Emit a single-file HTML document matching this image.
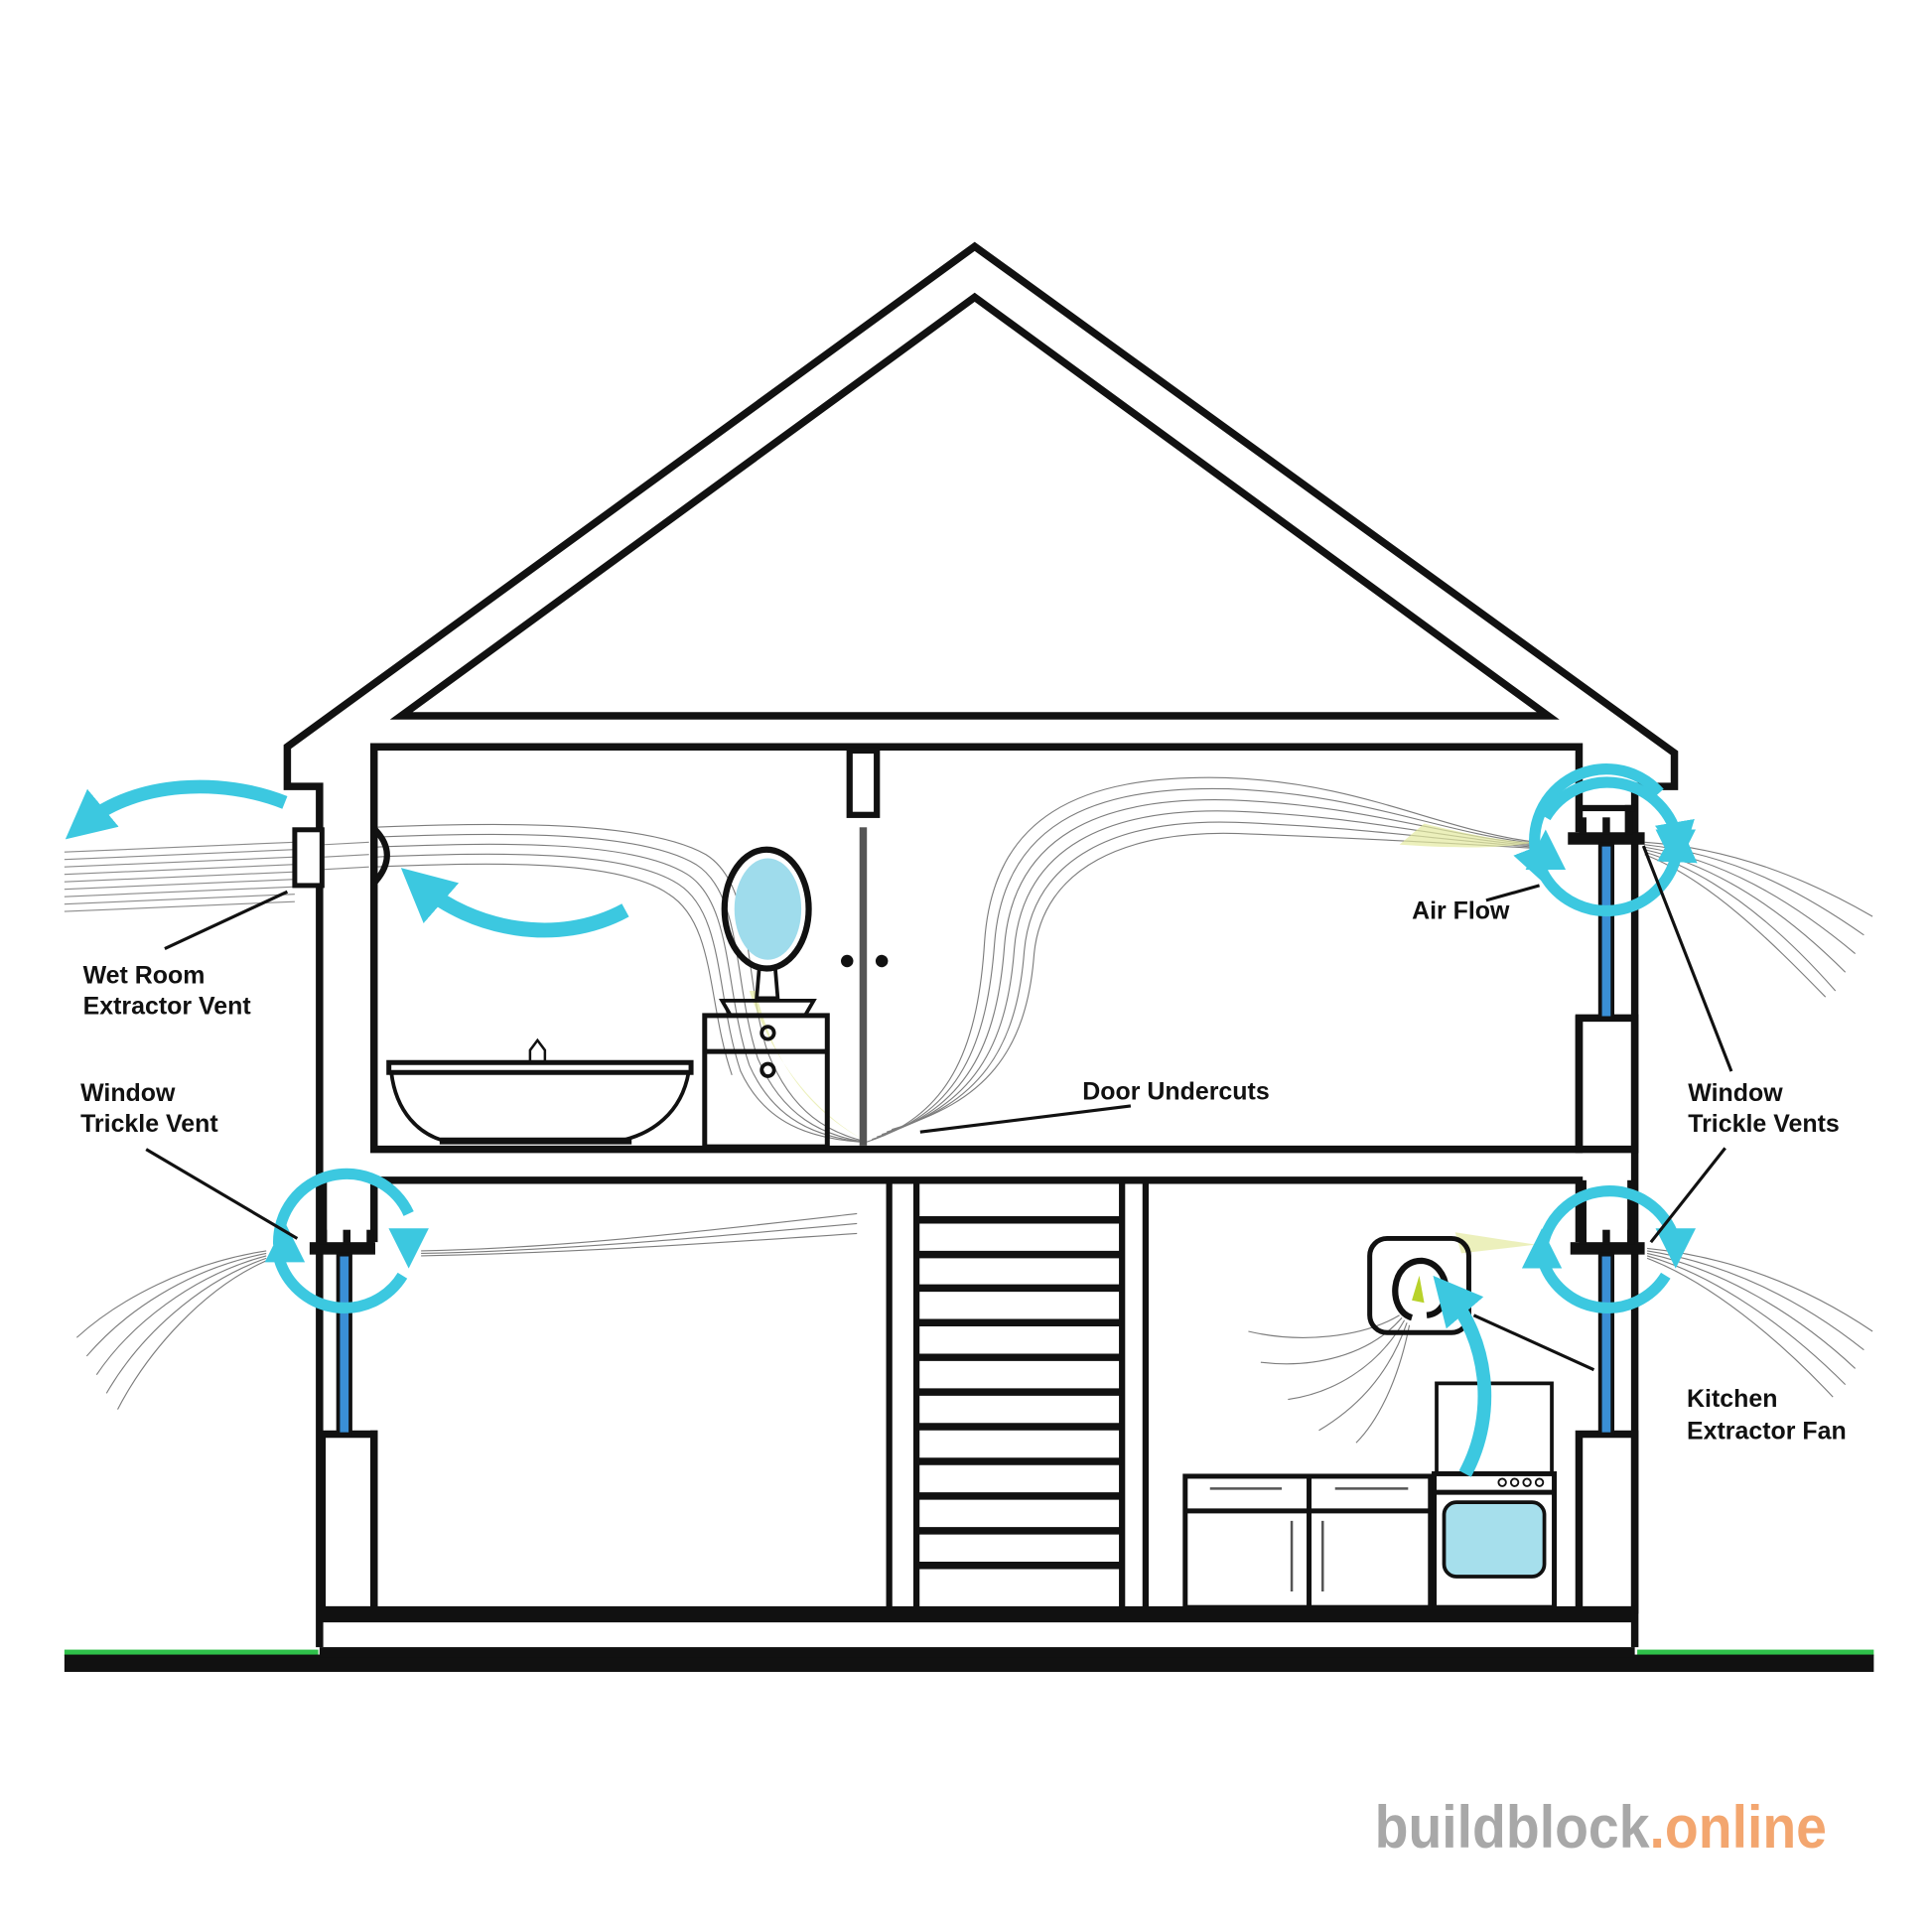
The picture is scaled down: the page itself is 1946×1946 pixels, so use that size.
<!DOCTYPE html>
<html><head><meta charset="utf-8"><style>
html,body{margin:0;padding:0;background:#fff;}
svg{display:block;}
text{font-family:"Liberation Sans",sans-serif;font-weight:bold;fill:#111;}
</style></head><body>
<svg width="1946" height="1946" viewBox="0 0 1560 1560" xmlns="http://www.w3.org/2000/svg">
<defs>
<marker id="ah" viewBox="0 0 10 10" refX="5" refY="5" markerWidth="3.6" markerHeight="3.6" orient="auto-start-reverse"><path d="M0,0 L10,5 L0,10 z" fill="#3cc8e0"/></marker>
</defs>
<rect width="1560" height="1560" fill="#fff"/>

<!-- airflow streaks -->
<g fill="none" stroke="#666" stroke-width="0.9" opacity="0.85">
 <g>
  <path d="M700,922 C770,900 790,840 795,760 C802,660 870,625 990,628 C1100,632 1160,670 1240,680"/>
  <path d="M704,920 C775,898 797,842 803,762 C810,668 878,634 992,637 C1100,641 1160,672 1240,681"/>
  <path d="M708,918 C780,896 805,844 811,764 C818,676 886,643 994,646 C1100,650 1160,674 1240,682"/>
  <path d="M712,916 C785,894 813,846 819,766 C826,684 894,652 996,655 C1100,659 1160,676 1240,683"/>
  <path d="M716,914 C790,892 821,848 827,768 C834,692 902,661 998,664 C1100,668 1160,678 1240,684"/>
  <path d="M720,912 C795,890 829,850 835,770 C842,700 910,670 1000,673 C1100,677 1160,680 1240,685"/>
 </g>
 <g>
  <path d="M302,668 C400,664 520,662 570,690 C610,715 600,790 620,850 C640,900 670,915 700,922"/>
  <path d="M302,676 C400,672 515,670 562,698 C600,722 592,795 612,855 C632,902 665,917 698,922"/>
  <path d="M302,684 C400,680 510,678 555,706 C592,730 585,800 605,860 C625,905 660,918 696,922"/>
  <path d="M302,692 C400,688 505,686 548,714 C585,738 578,805 598,865 C618,908 655,919 694,922"/>
  <path d="M302,700 C400,696 500,694 540,722 C578,746 571,810 591,868"/>
 </g>
 <g stroke="#777">
  <path d="M52,688 L238,680"/><path d="M52,694 L238,686"/><path d="M52,700 L238,692"/><path d="M52,706 L238,698"/><path d="M52,712 L238,704"/><path d="M52,718 L238,710"/><path d="M52,724 L238,716"/><path d="M52,730 L238,722"/><path d="M52,736 L238,728"/>
  <path d="M262,682 L298,680"/><path d="M262,692 L298,690"/><path d="M262,702 L298,700"/>
 </g>
 <g>
  <path d="M1328,680 C1400,685 1460,710 1512,740"/>
  <path d="M1328,682 C1400,690 1455,720 1505,755"/>
  <path d="M1328,684 C1395,695 1450,730 1498,770"/>
  <path d="M1328,686 C1390,700 1445,740 1490,785"/>
  <path d="M1328,688 C1385,705 1438,750 1482,800"/>
  <path d="M1328,690 C1380,710 1430,760 1474,805"/>
 </g>
 <g>
  <path d="M1330,1008 C1400,1015 1460,1040 1512,1075"/>
  <path d="M1330,1010 C1395,1020 1455,1050 1505,1090"/>
  <path d="M1330,1012 C1390,1025 1450,1060 1498,1105"/>
  <path d="M1330,1014 C1385,1030 1442,1070 1490,1118"/>
  <path d="M1330,1016 C1380,1035 1435,1080 1480,1128"/>
 </g>
 <g>
  <path d="M215,1010 C150,1020 95,1050 62,1080"/>
  <path d="M215,1012 C150,1025 100,1060 70,1095"/>
  <path d="M215,1014 C155,1030 105,1070 78,1110"/>
  <path d="M215,1016 C160,1035 112,1080 86,1125"/>
  <path d="M215,1018 C165,1040 120,1090 95,1138"/>
 </g>
 <g>
  <path d="M340,1010 C450,1008 560,995 692,980"/>
  <path d="M340,1012 C450,1010 560,1000 692,988"/>
  <path d="M340,1014 C450,1012 560,1005 692,996"/>
 </g>
 <g>
  <path d="M1130,1062 C1100,1080 1050,1085 1008,1075"/>
  <path d="M1132,1064 C1105,1095 1060,1105 1018,1100"/>
  <path d="M1134,1066 C1112,1105 1075,1125 1040,1130"/>
  <path d="M1136,1068 C1120,1115 1090,1140 1065,1155"/>
  <path d="M1138,1070 C1128,1120 1110,1150 1095,1165"/>
 </g>
</g>
<g fill="#e4eaa0" opacity="0.7">
 <path d="M1150,665 C1190,675 1220,680 1240,680 C1220,684 1190,686 1130,682 z"/>
 <path d="M1175,995 L1240,1005 L1180,1012 z"/>
 <path d="M610,800 C620,840 640,890 700,922 C660,900 625,860 605,800 z"/>
</g>

<g fill="none" stroke="#111" stroke-width="6" stroke-linejoin="miter">
 <path d="M258,1330 L258,635 L232,635 L232,603 L787,199 L1352,608 L1352,635 L1320,635 L1320,1330"/>
 <path d="M324,578 L787,240 L1250,578 z"/>
 <path d="M1275,672 L1275,603 L302,603 L302,928 L1275,928 L1275,820"/>
 <path d="M302,1003 L302,953 L1275,953 L1275,1003"/>
 <path d="M302,1155 L302,1300"/>
 <rect x="260" y="1158" width="42" height="142"/>
 <rect x="1275" y="822" width="45" height="106"/>
 <rect x="1275" y="1158" width="45" height="142"/>
 <rect x="686" y="606" width="22" height="52" stroke-width="5"/>
 <path d="M718,953 L718,1300 M740,953 L740,1300 M906,953 L906,1300 M925,953 L925,1300" stroke-width="5"/>
</g>
<g stroke="#111" stroke-width="6">
 <path d="M740,985 H906 M740,1013 H906 M740,1040 H906 M740,1068 H906 M740,1096 H906 M740,1124 H906 M740,1152 H906 M740,1180 H906 M740,1208 H906 M740,1236 H906 M740,1264 H906"/>
</g>
<rect x="258" y="1297" width="1062" height="13" fill="#111"/>
<rect x="52" y="1332" width="205" height="5" fill="#2fc04a"/>
<rect x="1322" y="1332" width="191" height="5" fill="#2fc04a"/>
<rect x="52" y="1336" width="1461" height="14" fill="#111"/>
<rect x="258" y="1330" width="1062" height="8" fill="#111"/>

<g fill="#111">
 <rect x="250" y="1003" width="53" height="10"/>
 <rect x="258" y="993" width="6" height="12"/><rect x="277" y="993" width="6" height="12"/><rect x="296" y="993" width="6" height="12"/>
 <rect x="1266" y="672" width="62" height="10"/>
 <rect x="1275" y="660" width="6" height="14"/><rect x="1294" y="660" width="6" height="14"/><rect x="1312" y="650" width="6" height="24"/>
 <rect x="1275" y="650" width="45" height="5"/>
 <rect x="1268" y="1003" width="60" height="10"/>
 <rect x="1275" y="993" width="6" height="12"/><rect x="1294" y="993" width="6" height="12"/><rect x="1314" y="993" width="6" height="12"/>
 <rect x="1275" y="953" width="6" height="52"/><rect x="1314" y="953" width="6" height="52"/>
 <rect x="258" y="953" width="6" height="52"/>
</g>
<g stroke="#111" stroke-width="3" fill="#3a8fd6">
 <rect x="273" y="1013" width="10" height="145"/>
 <rect x="1292" y="682" width="10" height="140"/>
 <rect x="1292" y="1013" width="10" height="145"/>
</g>

<rect x="238" y="670" width="22" height="45" fill="#fff" stroke="#111" stroke-width="4"/>
<path d="M303,670 Q322,690 303,712" fill="none" stroke="#111" stroke-width="5"/>

<g fill="none" stroke="#111">
 <path d="M314,858 L558,858 L558,866 L314,866 z" stroke-width="4"/>
 <path d="M316,866 C320,900 340,915 355,920 L505,920 C525,915 550,900 556,866" stroke-width="3"/>
 <path d="M355,922 H510" stroke-width="4"/>
 <path d="M428,857 L428,848 L434,840 L440,848 L440,857" stroke-width="2"/>
 <rect x="569" y="820" width="99" height="106" stroke-width="4"/>
 <path d="M569,849 H668" stroke-width="4"/>
 <path d="M583,808 L657,808 L650,820 L590,820 z" stroke-width="3"/>
 <circle cx="620" cy="834" r="5" stroke-width="3"/>
 <circle cx="620" cy="864" r="5" stroke-width="3"/>
 <path d="M613,782 L626,782 L628,806 L611,806 z" stroke-width="3"/>
 <ellipse cx="619" cy="734" rx="34" ry="48" stroke-width="5"/>
</g>
<ellipse cx="620" cy="734" rx="27" ry="41" fill="#9fdcec"/>
<rect x="694" y="668" width="6" height="257" fill="#555"/>
<circle cx="684" cy="776" r="5" fill="#111"/><circle cx="712" cy="776" r="5" fill="#111"/>

<g fill="none" stroke="#111" stroke-width="4">
 <rect x="957" y="1192" width="198" height="106"/>
 <path d="M957,1220 H1155 M1057,1192 V1298"/>
 <rect x="1160" y="1117" width="93" height="73" stroke-width="3"/>
 <rect x="1158" y="1190" width="97" height="108"/>
 <path d="M1158,1205 H1255"/>
 <rect x="1106" y="1000" width="80" height="76" rx="14"/>
 <path d="M1152,1062 C1175,1060 1172,1020 1148,1018 C1122,1018 1120,1058 1140,1064" stroke-width="5"/>
</g>
<g stroke="#555" stroke-width="2">
 <path d="M977,1202 H1035 M1078,1202 H1137 M1043,1228 V1285 M1068,1228 V1285"/>
</g>
<g fill="none" stroke="#111" stroke-width="1.5"><circle cx="1213" cy="1197" r="3"/><circle cx="1223" cy="1197" r="3"/><circle cx="1233" cy="1197" r="3"/><circle cx="1243" cy="1197" r="3"/></g>
<rect x="1166" y="1213" width="81" height="60" rx="10" fill="#a6dfec" stroke="#111" stroke-width="3"/>
<path d="M1140,1050 L1146,1030 L1150,1052 z" fill="#b8d22a"/>

<g fill="none" stroke="#3cc8e0" stroke-width="9" stroke-linecap="butt">
 <path d="M1243,700 A58,58 0 0 1 1340,640" marker-start="url(#ah)"/>
 <path d="M1355,680 A58,58 0 0 1 1246,705" marker-start="url(#ah)"/>
 <path d="M1248,660 A58,58 0 0 1 1355,680" marker-end="url(#ah)"/>
 <path d="M225,1005 A55,55 0 0 1 330,980" />
 <path d="M225,1015 A55,55 0 0 0 325,1030"/>
 <path d="M230,1005 L230,1003" marker-end="url(#ah)"/>
 <path d="M330,1005 L330,1008" marker-end="url(#ah)"/>
 <path d="M1245,1010 A55,55 0 0 1 1352,1000"/>
 <path d="M1245,1015 A55,55 0 0 0 1345,1030"/>
 <path d="M1245,1013 L1245,1008" marker-end="url(#ah)"/>
 <path d="M1353,1003 L1353,1008" marker-end="url(#ah)"/>
 <path d="M1248,690 L1248,686" marker-end="url(#ah)"/>
 <path d="M1353,680 L1353,686" marker-end="url(#ah)"/>
 <path d="M230,648 C180,628 110,630 68,665" marker-end="url(#ah)" stroke-width="11"/>
 <path d="M505,735 C450,765 380,750 340,715" marker-end="url(#ah)" stroke-width="12"/>
 <path d="M1183,1190 C1210,1140 1200,1080 1170,1045" marker-end="url(#ah)" stroke-width="11"/>
</g>

<g stroke="#111" stroke-width="2.5">
 <path d="M133,766 L232,720"/>
 <path d="M118,928 L240,1000"/>
 <path d="M743,914 L913,893"/>
 <path d="M1200,727 L1243,715"/>
 <path d="M1398,865 L1327,683"/>
 <path d="M1393,927 L1333,1003"/>
 <path d="M1287,1106 L1190,1062"/>
</g>

<g font-size="20">
 <text x="67" y="794">Wet Room</text>
 <text x="67" y="819">Extractor Vent</text>
 <text x="65" y="889">Window</text>
 <text x="65" y="914">Trickle Vent</text>
 <text x="874" y="888">Door Undercuts</text>
 <text x="1140" y="742">Air Flow</text>
 <text x="1363" y="889">Window</text>
 <text x="1363" y="914">Trickle Vents</text>
 <text x="1362" y="1136">Kitchen</text>
 <text x="1362" y="1162">Extractor Fan</text>
</g>
<text x="1110" y="1492" font-size="48" textLength="365" lengthAdjust="spacingAndGlyphs"><tspan fill="#a8a8a8">buildblock</tspan><tspan fill="#f3a66f">.online</tspan></text>
</svg>
</body></html>
